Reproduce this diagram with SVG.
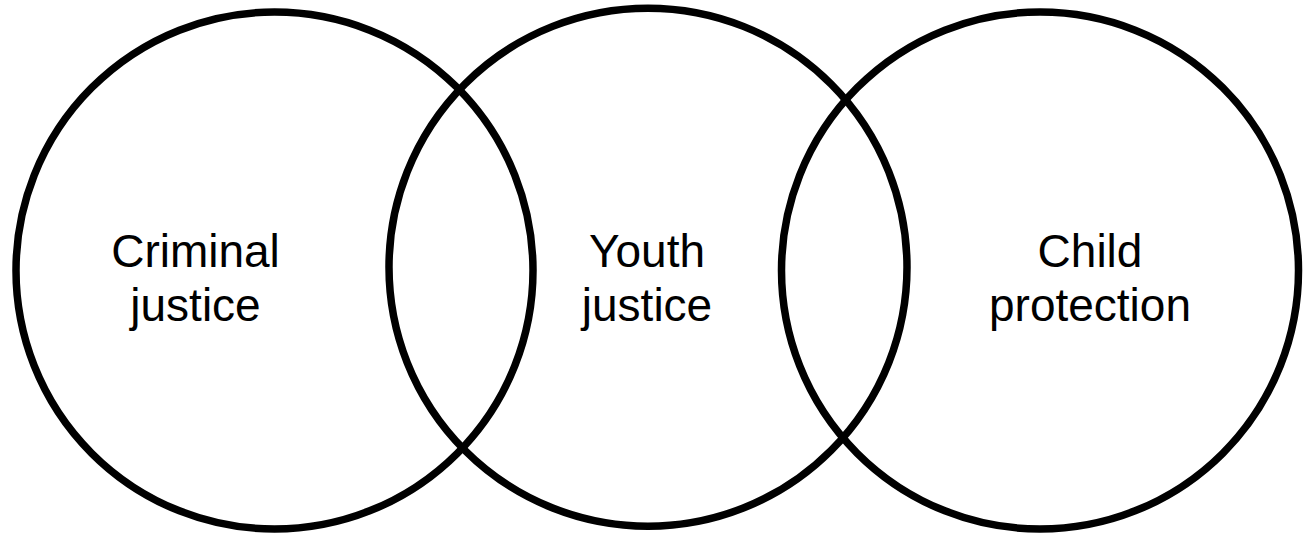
<svg xmlns="http://www.w3.org/2000/svg" width="1303" height="533" viewBox="0 0 1303 533">
<style>
.c{fill:none;stroke:#000;stroke-width:7.5}
.t{font-family:"Liberation Sans",Arial,sans-serif;font-size:46px;fill:#000;text-anchor:middle}
</style>
<rect width="1303" height="533" fill="#fff"/>
<g id="criminal-justice">
<circle class="c" cx="274.5" cy="270.5" r="258.5"/>
<text class="t" x="195.5" y="267">Criminal</text>
<text class="t" x="195.5" y="321">justice</text>
</g>
<g id="youth-justice">
<circle class="c" cx="648" cy="267.2" r="259"/>
<text class="t" x="647" y="267">Youth</text>
<text class="t" x="647" y="321">justice</text>
</g>
<g id="child-protection">
<circle class="c" cx="1040" cy="270.5" r="258.5"/>
<text class="t" x="1090" y="267">Child</text>
<text class="t" x="1090" y="321">protection</text>
</g>
<g id="connectors"/>
</svg>
